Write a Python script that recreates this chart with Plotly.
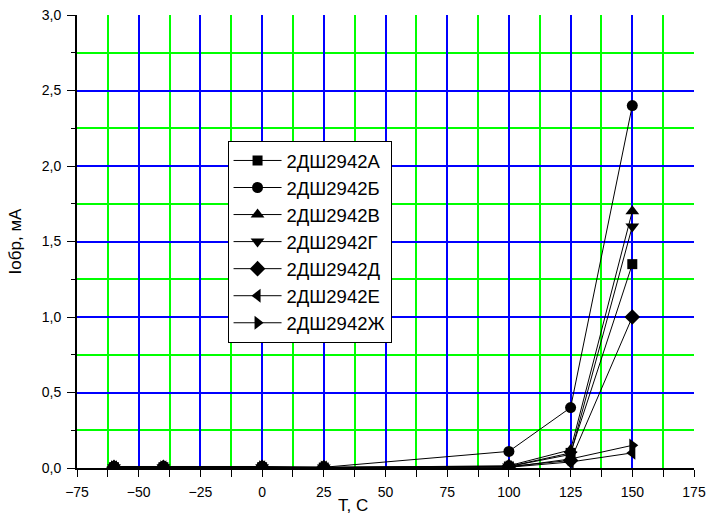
import plotly.graph_objects as go

T = [-60, -40, 0, 25, 100, 125, 150]
names = ["2ДШ2942А", "2ДШ2942Б", "2ДШ2942В", "2ДШ2942Г", "2ДШ2942Д", "2ДШ2942Е", "2ДШ2942Ж"]
I_A = [0.005, 0.005, 0.005, 0.003, 0.01, 0.10, 1.35]
I_B = [0.01, 0.01, 0.01, 0.005, 0.11, 0.40, 2.40]
I_V = [0.005, 0.005, 0.005, 0.003, 0.015, 0.12, 1.70]
I_G = [0.005, 0.005, 0.005, 0.003, 0.01, 0.09, 1.60]
I_D = [0.005, 0.005, 0.005, 0.003, 0.01, 0.05, 1.00]
I_E = [0.005, 0.005, 0.005, 0.003, 0.005, 0.04, 0.10]
I_Zh = [0.005, 0.005, 0.005, 0.003, 0.005, 0.06, 0.15]
series = [I_A, I_B, I_V, I_G, I_D, I_E, I_Zh]
symbols = ["square", "circle", "triangle-up", "triangle-down", "diamond", "triangle-left", "triangle-right"]
sizes = [10, 11, 12, 12, 12, 12, 12]

x_range = [-75, 175]
x_step = 25
y_range = [0, 3.0]
y_step = 0.5

fig = go.Figure()
for name, vals, sym, sz in zip(names, series, symbols, sizes):
    fig.add_trace(go.Scatter(
        x=T, y=vals, name=name, mode="lines+markers",
        line=dict(color="black", width=1),
        marker=dict(symbol=sym, size=sz, color="black"),
    ))

FONT = "Liberation Sans"
fig.update_layout(
    width=712, height=521,
    margin=dict(l=77, r=18, t=15, b=53),
    paper_bgcolor="white", plot_bgcolor="white",
    separators=", ",
    font=dict(family=FONT, color="black", size=14),
    legend=dict(
        x=0.244, y=0.722, xanchor="left", yanchor="top",
        bordercolor="black", borderwidth=1, bgcolor="white",
        font=dict(size=18.5, family=FONT), itemwidth=48, tracegroupgap=0,
    ),
    showlegend=True,
    annotations=[dict(
        text="T, C", xref="paper", yref="paper", x=0.447, y=-0.082,
        xanchor="center", yanchor="middle", showarrow=False,
        font=dict(size=17, family=FONT, color="black"),
    )],
)
fig.update_xaxes(
    range=x_range, tickmode="linear", tick0=x_range[0], dtick=x_step,
    showgrid=True, gridcolor="#0000FF", gridwidth=1.5,
    minor=dict(tickmode="linear", tick0=x_range[0], dtick=x_step / 2, showgrid=True,
               gridcolor="#00FF00", gridwidth=1.5,
               ticks="outside", ticklen=7, tickcolor="black"),
    showline=True, linecolor="black", linewidth=2,
    ticks="outside", ticklen=7, tickcolor="black", tickwidth=1,
    zeroline=False, automargin=False, ticklabelstandoff=3,
    tickfont=dict(size=14, family=FONT),
)
fig.update_yaxes(
    range=y_range, tickmode="linear", tick0=0, dtick=y_step, tickformat=".1f",
    showgrid=True, gridcolor="#0000FF", gridwidth=1.5,
    minor=dict(tickmode="linear", tick0=0, dtick=y_step / 2, showgrid=True,
               gridcolor="#00FF00", gridwidth=1.5,
               ticks="outside", ticklen=4, tickcolor="black"),
    showline=True, linecolor="black", linewidth=2,
    ticks="outside", ticklen=8, tickcolor="black", tickwidth=1,
    zeroline=False, automargin=False, ticklabelstandoff=3,
    title=dict(text="Iобр, мА", font=dict(size=17, family=FONT), standoff=16),
    tickfont=dict(size=14, family=FONT),
)

fig.write_html("out.html")
